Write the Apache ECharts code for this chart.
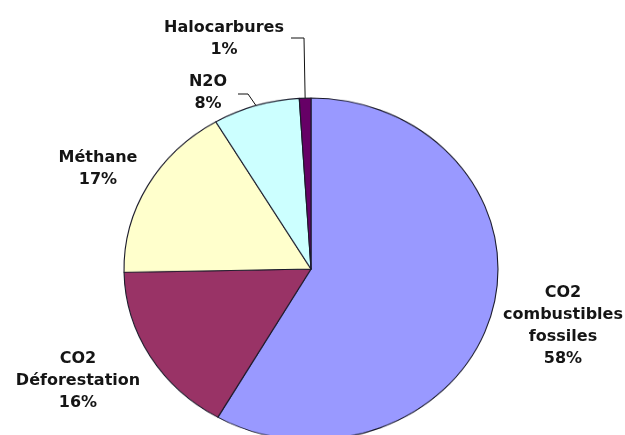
<!DOCTYPE html>
<html>
<head>
<meta charset="utf-8">
<script src="https://cdn.jsdelivr.net/npm/echarts@6/dist/echarts.min.js"></script>
<style>
  html, body { margin:0; padding:0; background:#fff; overflow:hidden; }
  #wrap { position:relative; width:625px; height:435px; overflow:hidden; background:#fff; }
  #pie { position:absolute; left:0; top:0; width:625px; height:490px; transform-origin:311px 269px; transform:scaleY(0.9144); }
  #lab { position:absolute; left:0; top:0; width:625px; height:435px; }
</style>
</head>
<body>
<div id="wrap"><div id="pie"></div><div id="lab"></div></div>
<script>
// Data (shares in %, estimated from slice geometry; labels show them rounded)
const categories = ['CO2\ncombustibles\nfossiles', 'CO2\nDéforestation', 'Méthane', 'N2O', 'Halocarbures'];
const shares = [58.3, 16.4, 16.8, 7.5, 1.0];
const colors = ['#9999FF', '#993366', '#FFFFCC', '#CCFFFF', '#660066'];
const withLine = [false, false, false, true, true];

// Layout (label placement only)
const CX = 311, CY = 269, R = 187, SY = 0.9144;
const labelPos = [[563, 326], [78, 381], [98, 169], [208, 93], [224, 38.5]];
const labelLineEnd = [null, null, null, [[248, 94], [238, 94]], [[304, 38], [291, 38]]];

const pieData = categories.map((c, i) => ({
  name: c, value: shares[i], itemStyle: { color: colors[i] }
}));

const pieChart = echarts.init(document.getElementById('pie'), null, { renderer: 'canvas' });
pieChart.setOption({
  animation: false,
  series: [{
    type: 'pie',
    center: [CX, CY],
    radius: R,
    startAngle: 90,
    clockwise: true,
    silent: true,
    label: { show: false },
    labelLine: { show: false },
    itemStyle: { borderColor: '#1a1a2a', borderWidth: 1.1 },
    data: pieData
  }]
});

const labData = categories.map((c, i) => ({
  name: c, value: shares[i],
  labelLine: { show: withLine[i] }
}));

const labChart = echarts.init(document.getElementById('lab'), null, { renderer: 'canvas' });
labChart.setOption({
  animation: false,
  series: [{
    type: 'pie',
    center: [CX, CY],
    radius: R,
    startAngle: 90,
    clockwise: true,
    silent: true,
    avoidLabelOverlap: false,
    itemStyle: { color: 'rgba(0,0,0,0)', borderWidth: 0 },
    label: {
      show: true,
      position: 'outside',
      formatter: p => p.name + '\n' + Math.round(p.value) + '%',
      fontFamily: 'DejaVu Sans',
      fontWeight: 'bold',
      fontSize: 16,
      lineHeight: 22,
      color: '#151515',
      align: 'center'
    },
    labelLine: { show: true, length: 10, length2: 10, smooth: false, lineStyle: { color: '#111', width: 1 } },
    labelLayout: function (params) {
      const i = params.dataIndex;
      const out = { x: labelPos[i][0], y: labelPos[i][1], align: 'center', verticalAlign: 'middle' };
      if (withLine[i] && params.labelLinePoints) {
        const p0 = params.labelLinePoints[0];
        const start = [p0[0], CY + (p0[1] - CY) * SY];
        out.labelLinePoints = [start].concat(labelLineEnd[i]);
      }
      return out;
    },
    data: labData
  }]
});
</script>
</body>
</html>
